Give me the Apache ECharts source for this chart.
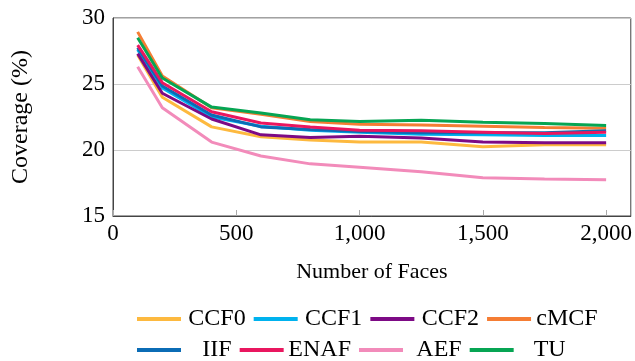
<!DOCTYPE html>
<html>
<head>
<meta charset="utf-8">
<script src="https://cdn.jsdelivr.net/npm/echarts@6/dist/echarts.min.js"></script>
<style>
  html, body { margin: 0; padding: 0; background: #fff; }
  #chart { width: 635px; height: 361px; }
</style>
</head>
<body>
<div id="chart"></div>
<script>
var faces = [100, 200, 400, 600, 800, 1000, 1250, 1500, 1750, 2000];

var names = ['CCF0', 'CCF1', 'CCF2', 'cMCF', 'IIF', 'ENAF', 'AEF', 'TU'];
var colors = ['#fdb93f', '#00b2ee', '#7d0a85', '#f57d34', '#0b6cb5', '#e9175f', '#f28bba', '#06a553'];

var ccf0 = [27.2, 24.0, 21.75, 21.0, 20.75, 20.6, 20.6, 20.25, 20.4, 20.4];
var ccf1 = [27.6, 24.7, 22.5, 21.8, 21.5, 21.35, 21.2, 21.15, 21.1, 21.1];
var ccf2 = [27.3, 24.3, 22.35, 21.15, 20.95, 21.05, 20.9, 20.6, 20.55, 20.55];
var cmcf = [28.95, 25.6, 23.2, 22.7, 22.15, 21.95, 21.9, 21.8, 21.7, 21.65];
var iif  = [27.75, 24.85, 22.65, 21.75, 21.55, 21.4, 21.3, 21.3, 21.3, 21.45];
var enaf = [27.95, 25.1, 22.9, 22.05, 21.75, 21.5, 21.45, 21.35, 21.25, 21.35];
var aef  = [26.3, 23.2, 20.6, 19.55, 18.95, 18.7, 18.35, 17.9, 17.8, 17.75];
var tu   = [28.5, 25.45, 23.25, 22.8, 22.3, 22.15, 22.25, 22.1, 22.0, 21.85];

var values = [ccf0, ccf1, ccf2, cmcf, iif, enaf, aef, tu];

var font = 'Liberation Serif';
var myChart = echarts.init(document.getElementById('chart'));

var series = names.map(function (n, i) {
  return {
    name: n,
    type: 'line',
    showSymbol: false,
    symbol: 'none',
    lineStyle: { width: 3, color: colors[i] },
    itemStyle: { color: colors[i] },
    data: faces.map(function (x, j) { return [x, values[i][j]]; })
  };
});

function makeLegend(items, top) {
  return {
    data: items,
    top: top,
    left: 132,
    orient: 'horizontal',
    icon: 'rect',
    itemWidth: 44,
    itemHeight: 4,
    itemGap: 8,
    formatter: '{a|{name}}',
    textStyle: {
      fontFamily: font,
      fontSize: 24,
      color: '#000',
      rich: { a: { width: 62, align: 'center', fontFamily: font, fontSize: 24, color: '#000' } }
    }
  };
}

var option = {
  animation: false,
  color: colors,
  grid: {
    left: 113,
    right: 3,
    top: 18,
    bottom: 145,
    show: true,
    borderColor: '#444',
    borderWidth: 1
  },
  legend: [makeLegend(names.slice(0, 4), 302), makeLegend(names.slice(4), 333)],
  xAxis: {
    type: 'value',
    min: 0,
    max: 2100,
    interval: 500,
    name: 'Number of Faces',
    nameLocation: 'middle',
    nameGap: 45,
    nameTextStyle: { fontFamily: font, fontSize: 22, color: '#000' },
    axisLine: { lineStyle: { color: '#444' } },
    axisTick: { inside: true, length: 6, lineStyle: { color: '#aaa' } },
    splitLine: { show: false },
    axisLabel: {
      fontFamily: font,
      fontSize: 23,
      color: '#000',
      margin: 6,
      showMaxLabel: false,
      formatter: function (v) { return v.toLocaleString('en-US'); }
    }
  },
  yAxis: {
    type: 'value',
    min: 15,
    max: 30,
    interval: 5,
    name: 'Coverage (%)',
    nameLocation: 'middle',
    nameGap: 80,
    nameTextStyle: { fontFamily: font, fontSize: 24, color: '#000' },
    axisLine: { show: true, lineStyle: { color: '#444' } },
    axisTick: { show: false },
    splitLine: { lineStyle: { color: '#cccccc', width: 1 } },
    axisLabel: { fontFamily: font, fontSize: 23, color: '#000', margin: 8 }
  },
  series: series
};

myChart.setOption(option);
</script>
</body>
</html>
